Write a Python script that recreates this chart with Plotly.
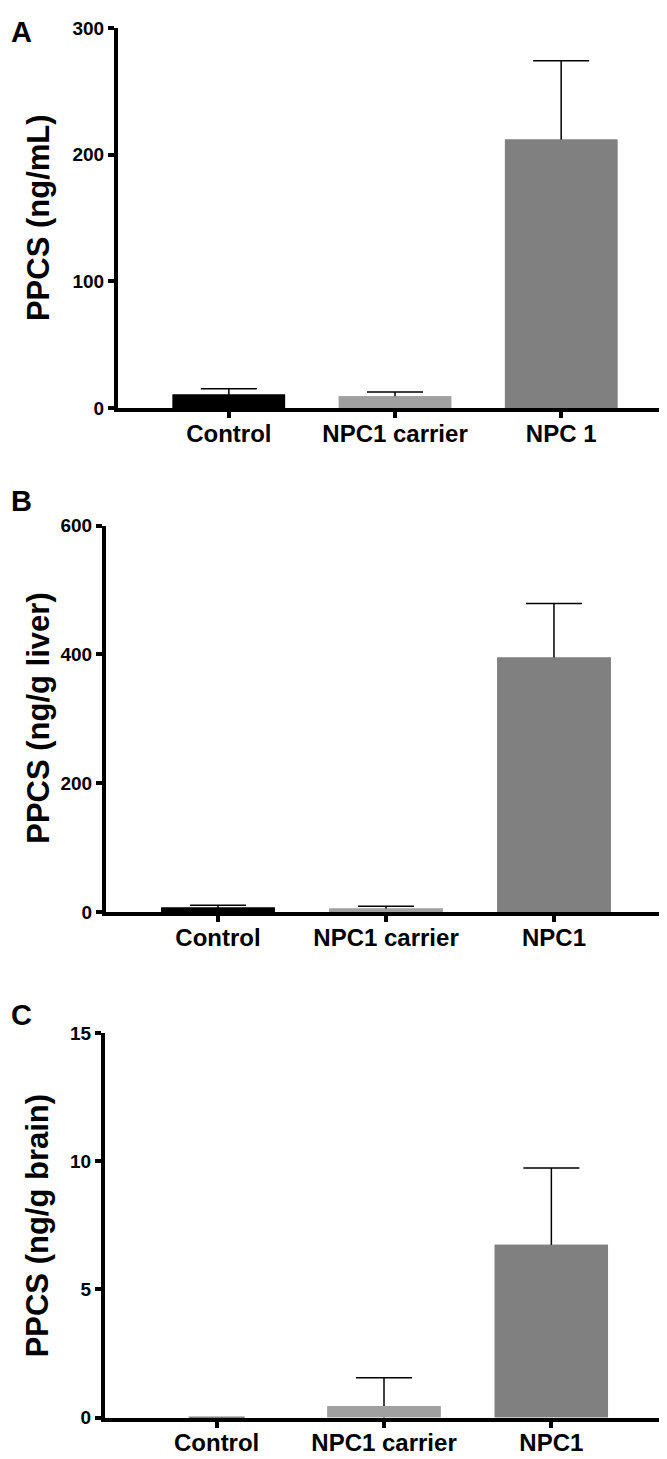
import plotly.graph_objects as go

# values (mean + upper error)
groups_a = ["Control", "NPC1 carrier", "NPC 1"]
groups_bc = ["Control", "NPC1 carrier", "NPC1"]

plasma_mean = [10.8, 9.5, 212]
plasma_err = [4.6, 3.3, 62]

liver_mean = [7, 5.5, 395]
liver_err = [3.5, 3.5, 84]

brain_mean = [0, 0.45, 6.74]
brain_err = [None, 1.1, 3.0]  # no error bar drawn for control

bar_colors = ["#000000", "#a0a0a0", "#808080"]

W, H = 667, 1459


def px_dom(a, b):
    return [a / W, b / W]


def py_dom(top, bottom):
    return [1 - bottom / H, 1 - top / H]


panels = [
    dict(letter="A", cats=groups_a, mean=plasma_mean, err=plasma_err,
         title="PPCS (ng/mL)", yr=300, step=100,
         xd=px_dom(110, 664), yd=py_dom(10, 396), tx=30, lt=14),
    dict(letter="B", cats=groups_bc, mean=liver_mean, err=liver_err,
         title="PPCS (ng/g liver)", yr=600, step=200,
         xd=px_dom(98, 658), yd=py_dom(515, 907), tx=31, lt=490),
    dict(letter="C", cats=groups_bc, mean=brain_mean, err=brain_err,
         title="PPCS (ng/g brain)", yr=15, step=5,
         xd=px_dom(97, 655), yd=py_dom(1030, 1420), tx=29, lt=1012),
]

fig = go.Figure()
layout = {}
annotations = []
fam = "Liberation Sans, Arial, sans-serif"
tick_font = dict(family=fam, size=19, color="black", weight="bold")
lab_font = dict(family=fam, size=24, color="black", weight="bold")

for i, p in enumerate(panels):
    n = "" if i == 0 else str(i + 1)
    xa, ya = "x" + n, "y" + n
    # bars with error bars, then the same bars again on top so only the upper whisker shows
    fig.add_trace(go.Bar(
        x=p["cats"], y=p["mean"], xaxis=xa, yaxis=ya, width=0.677,
        marker=dict(color=bar_colors, line=dict(width=0)),
        error_y=dict(type="data", array=p["err"], symmetric=True,
                     color="black", thickness=1.5, width=28),
        showlegend=False))
    fig.add_trace(go.Bar(
        x=p["cats"], y=p["mean"], xaxis=xa, yaxis=ya, width=0.677,
        marker=dict(color=bar_colors, line=dict(width=0)),
        showlegend=False))

    layout["xaxis" + n] = dict(
        domain=p["xd"], anchor=ya, type="category", range=[-0.667, 2.667],
        showline=True, linewidth=4, linecolor="black", ticks="outside",
        ticklen=6, tickwidth=4, tickcolor="black", tickfont=lab_font,
        ticklabelstandoff=-5,
        showgrid=False, zeroline=False, fixedrange=True)
    layout["yaxis" + n] = dict(
        domain=p["yd"], anchor=xa, range=[0, p["yr"]],
        tickvals=list(range(0, p["yr"] + 1, p["step"])),
        showline=True, linewidth=4, linecolor="black", ticks="outside",
        ticklen=6, tickwidth=4, tickcolor="black", tickfont=tick_font,
        showgrid=False, zeroline=False, fixedrange=True)

    ymid = (p["yd"][0] + p["yd"][1]) / 2
    annotations.append(dict(
        text=p["title"], textangle=-90, xref="paper", yref="paper",
        x=p["tx"] / W, y=ymid, xanchor="center", yanchor="middle", showarrow=False,
        font=dict(family=fam, size=31, color="black", weight="bold")))
    annotations.append(dict(
        text=p["letter"], xref="paper", yref="paper",
        x=13 / W, y=1 - p["lt"] / H, xanchor="center", yanchor="middle", showarrow=False,
        font=dict(family=fam, size=29, color="black", weight="bold")))

fig.update_layout(
    width=W, height=H, margin=dict(l=0, r=0, t=0, b=0),
    paper_bgcolor="white", plot_bgcolor="white",
    barmode="overlay", annotations=annotations, **layout)

fig.write_html("out.html")
